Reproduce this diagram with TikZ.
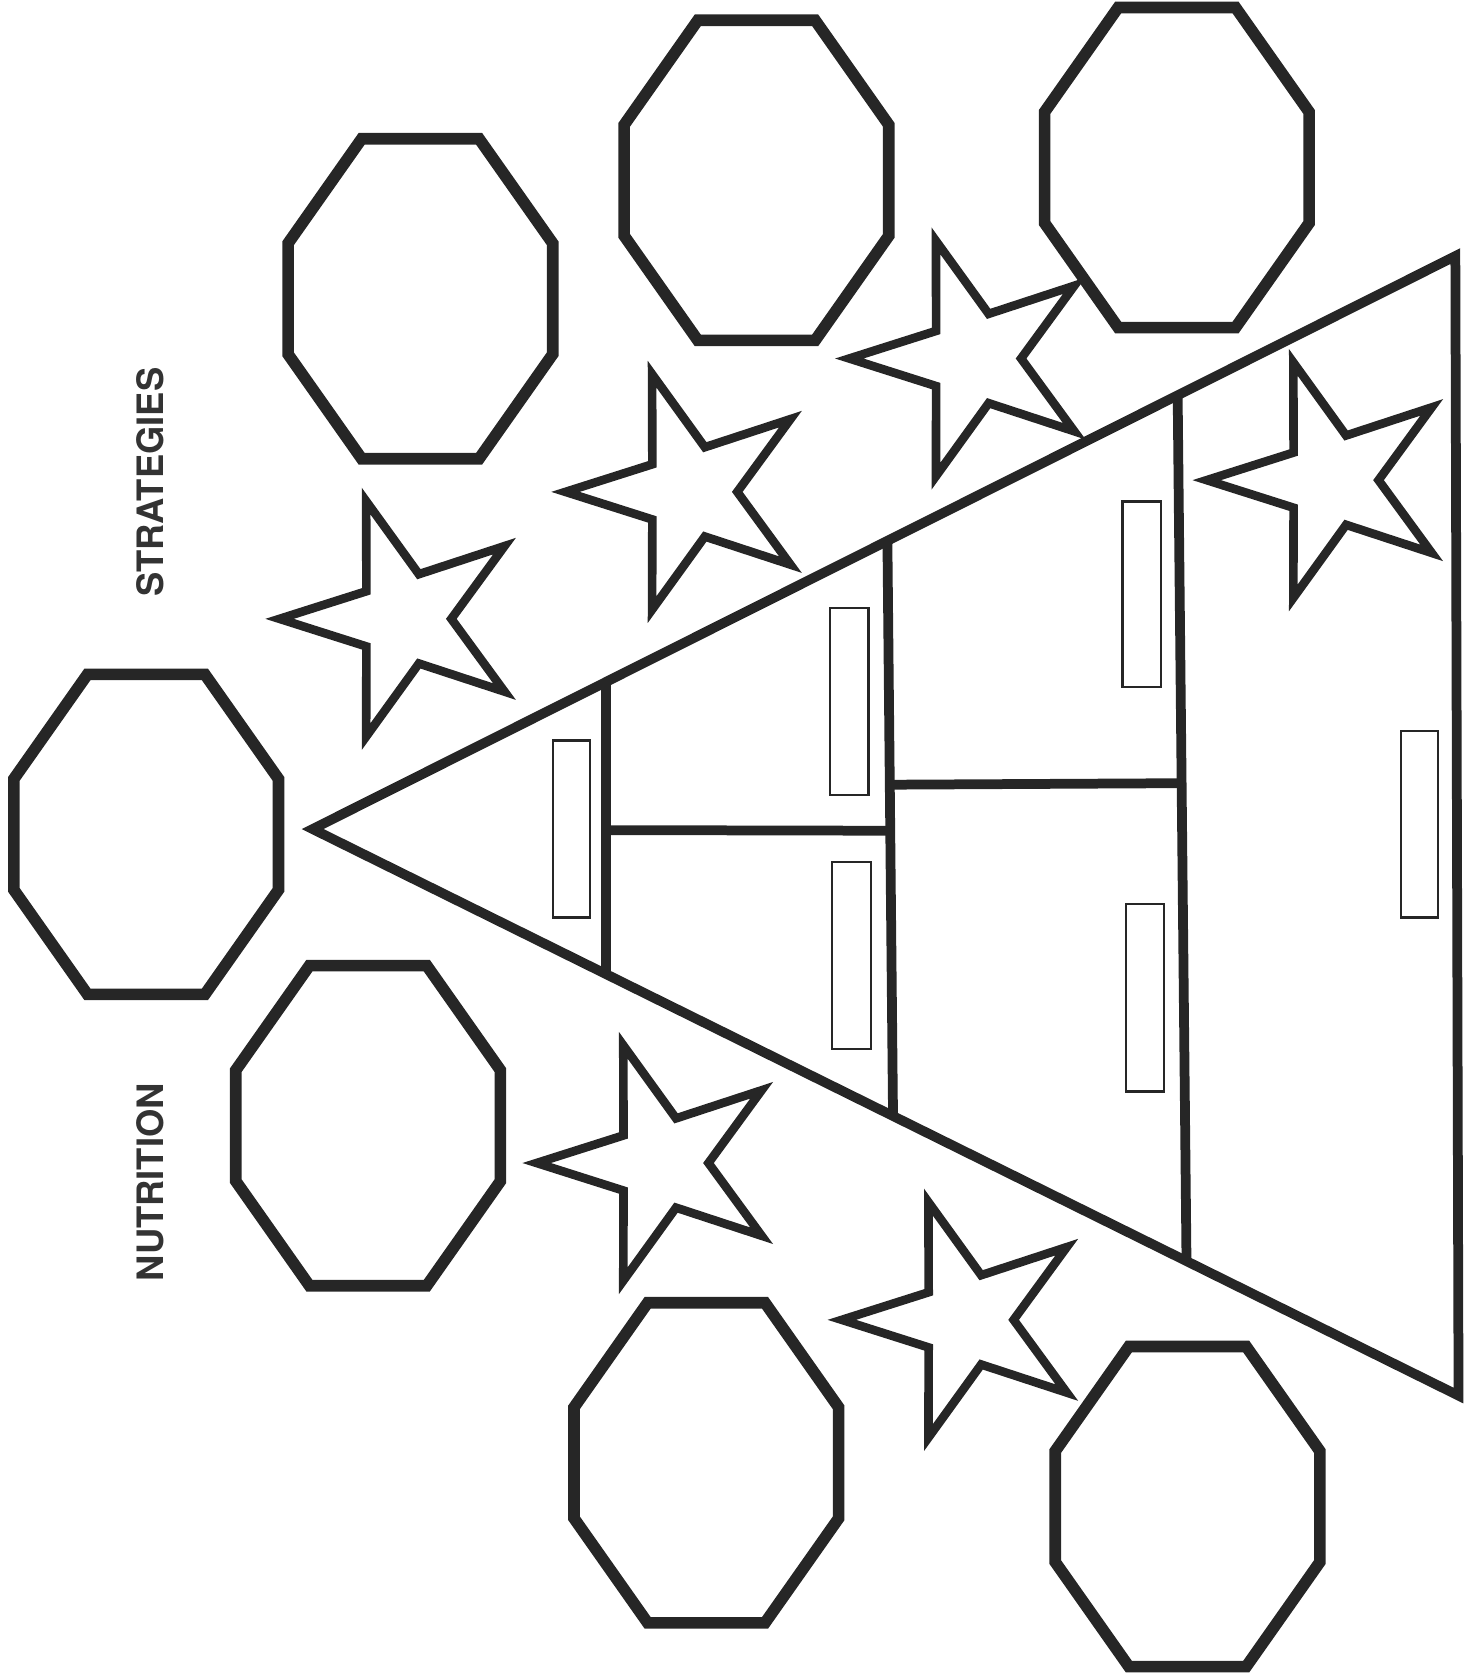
\documentclass[tikz,border=0pt]{standalone}
\usepackage{fontspec}
\newfontfamily\headfont{TeX Gyre Heros}
\usetikzlibrary{calc}

\tikzset{
        octa/.style={draw=black!85,line width=3.1pt,line join=miter},
        starline/.style={draw=black!85,line width=2.3pt,line join=miter,miter limit=10},
        pyr/.style={draw=black!85,line width=2.6pt,line join=miter,miter limit=10},
        slot/.style={draw=black!85,line width=0.6pt},
        sidetext/.style={font=\headfont\bfseries\fontsize{9.7}{12}\selectfont,text=black!80,rotate=90,inner sep=0pt}
}

\begin{document}
\begin{tikzpicture}[x=0.1mm,y=-0.1mm]
        \useasboundingbox (0,0) rectangle (1387,1568);
        \foreach \cx/\cy in {137/782,394/280,709/169,1103/157,345/1055,662/1371,1113/1412}
                \draw[octa,shift={(\cx,\cy)}] (-55,-150) -- (55,-150) -- (124,-52) -- (124,52) -- (55,150) -- (-55,150) -- (-124,52) -- (-124,-52) -- cycle;
        \foreach \cx/\cy in {379/580,647/461,913/336,1248/450,620/1090,906/1237}
                \draw[starline,shift={(\cx,\cy)}] (180:117) -- (216:44) -- (252:116) -- (288:44) -- (324:116) -- (0:44) -- (36:116) -- (72:44) -- (108:116) -- (144:44) -- cycle;
        \coordinate (apex) at (293,777);
        \coordinate (topc) at (1364,240);
        \coordinate (botc) at (1367,1308);
        \draw[pyr] (apex) -- (topc) -- (botc) -- cycle;
        \coordinate (d1t) at ($(apex)!0.2568!(topc)$);
        \coordinate (d1b) at ($(apex)!0.256!(botc)$);
        \coordinate (d2t) at ($(apex)!0.503!(topc)$);
        \coordinate (d2b) at ($(apex)!0.5065!(botc)$);
        \coordinate (d3t) at ($(apex)!0.757!(topc)$);
        \coordinate (d3b) at ($(apex)!0.7626!(botc)$);
        \draw[pyr] (d1t) -- (d1b);
        \draw[pyr] (d2t) -- (d2b);
        \draw[pyr] (d3t) -- (d3b);
        \draw[pyr] (d1t |- 0,778) -- ($(d2t)!0.504!(d2b)$);
        \draw[pyr] ($(d2t)!0.424!(d2b)$) -- ($(d3t)!0.448!(d3b)$);
        \foreach \xa/\ya/\xb/\yb in {518/694/553/860,778/570/814/745,780/808/816/983,1052/470/1088/644,1055/847/1091/1023,1313/685/1348/860}
                \draw[slot] (\xa,\ya) rectangle (\xb,\yb);
        \node[sidetext] (strat) at (141,452) {STRATEGIES};
        \node[sidetext] (nutr) at (141,1108) {NUTRITION};
\end{tikzpicture}
\end{document}
